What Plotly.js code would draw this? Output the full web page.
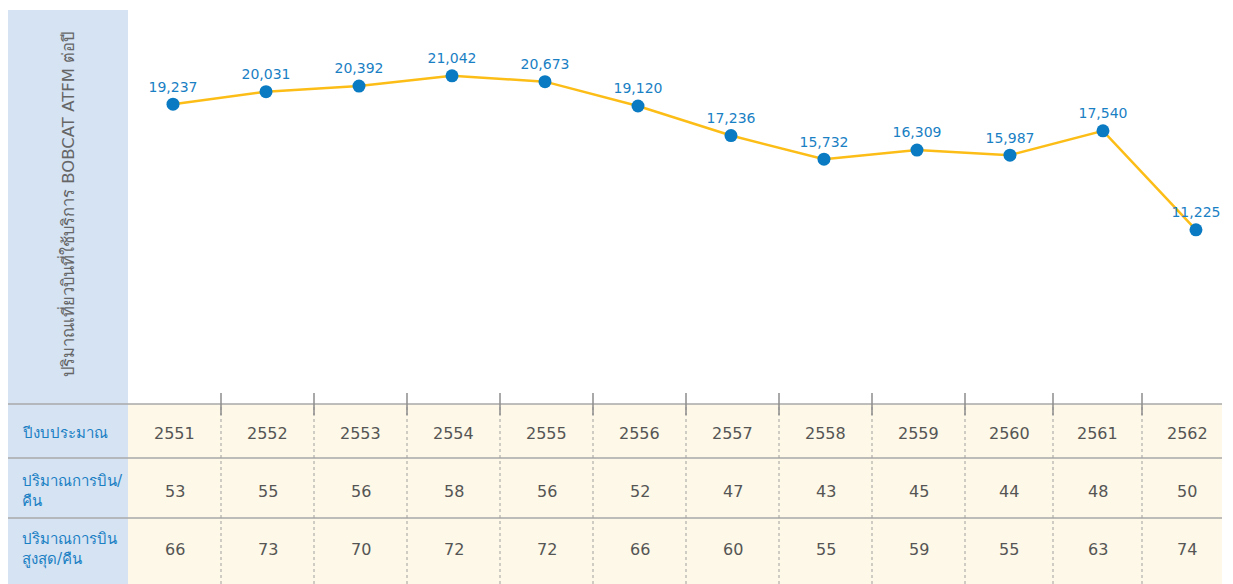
<!DOCTYPE html>
<html><head><meta charset="utf-8">
<script src="https://cdn.plot.ly/plotly-3.0.1.min.js"></script>
<style>html,body{margin:0;padding:0;background:#fff}#chart{width:1233px;height:584px}</style>
</head><body><div id="chart"></div>
<script>
const years = ['2551','2552','2553','2554','2555','2556','2557','2558','2559','2560','2561','2562'];
const flightsPerYear = [19237,20031,20392,21042,20673,19120,17236,15732,16309,15987,17540,11225];
const flightsPerNight = [53,55,56,58,56,52,47,43,45,44,48,50];
const peakPerNight = [66,73,70,72,72,66,60,55,59,55,63,74];
const rowLabels = ['ปีงบประมาณ','ปริมาณการบิน/<br>คืน','ปริมาณการบิน<br>สูงสุด/คืน'];
const yTitle = 'ปริมาณเที่ยวบินที่ใช้บริการ BOBCAT ATFM ต่อปี';

const W = 1233, H = 584;
const px = v => v / W;
const py = v => (H - v) / H;
const font = '"DejaVu Sans", Verdana, sans-serif';
const blue = '#d5e3f3', cream = '#fdf8e7', gridc = '#a8a8a8';
// table column edges (pixels), layout only
const colEdges = [128,221,314,407,500,593,686,779,872,965,1053,1142,1232];

const xs = years.map((_, i) => i);
const trace = {
  x: xs, y: flightsPerYear, type: 'scatter', mode: 'lines+markers+text',
  text: flightsPerYear.map(v => v.toLocaleString('en-US')),
  textposition: 'top center',
  textfont: {family: font, size: 14, color: '#1a80c4'},
  line: {color: '#fcbd17', width: 2.5},
  marker: {color: '#0a7bc2', size: 13},
  hoverinfo: 'skip', cliponaxis: false
};

const shapes = [
  {type:'rect', xref:'paper', yref:'paper', x0:px(8), x1:px(128), y0:py(584), y1:py(10), fillcolor:blue, line:{width:0}, layer:'below'},
  {type:'rect', xref:'paper', yref:'paper', x0:px(128), x1:px(1222), y0:py(584), y1:py(404), fillcolor:cream, line:{width:0}, layer:'below'}
];
[404, 458, 518].forEach(yy => shapes.push({type:'line', xref:'paper', yref:'paper', x0:px(8), x1:px(1222), y0:py(yy), y1:py(yy), line:{color:gridc, width:1.5}}));
for (let i = 1; i < colEdges.length - 1; i++) {
  const xe = px(colEdges[i]);
  shapes.push({type:'line', xref:'paper', yref:'paper', x0:xe, x1:xe, y0:py(584), y1:py(404), line:{color:'#a0a0a0', width:1, dash:'3px,3px'}});
  shapes.push({type:'line', xref:'paper', yref:'paper', x0:xe, x1:xe, y0:py(415), y1:py(393), line:{color:'#8c8c8c', width:1.5}});
}

const annotations = [];
annotations.push({xref:'paper', yref:'paper', x:px(67), y:py(205), text:yTitle, textangle:-90, showarrow:false, font:{family:font, size:16.5, color:'#666'}, xanchor:'center', yanchor:'middle'});
const rowY = [433, 491, 549];
const rowData = [years, flightsPerNight, peakPerNight];
rowLabels.forEach((t, r) => annotations.push({xref:'paper', yref:'paper', x:px(20), y:py(rowY[r]), text:t, showarrow:false, xanchor:'left', yanchor:'middle', align:'left', font:{family:font, size:15, color:'#1a7fc3'}}));
rowData.forEach((arr, r) => arr.forEach((v, i) => annotations.push({xref:'paper', yref:'paper', x:px((colEdges[i]+colEdges[i+1])/2), y:py(rowY[r]), text:String(v), showarrow:false, xanchor:'center', yanchor:'middle', font:{family:font, size:16, color:'#555'}})));

const layout = {
  width: W, height: H, margin:{l:0, r:0, t:0, b:0},
  paper_bgcolor:'#fff', plot_bgcolor:'rgba(0,0,0,0)', showlegend:false,
  xaxis:{domain:[px(128), px(1222)], range:[-0.484, 11.28], visible:false, fixedrange:true},
  yaxis:{domain:[py(404), py(10)], range:[118, 25242], visible:false, fixedrange:true},
  shapes, annotations
};
Plotly.newPlot('chart', [trace], layout, {displayModeBar:false, staticPlot:true});
</script></body></html>
